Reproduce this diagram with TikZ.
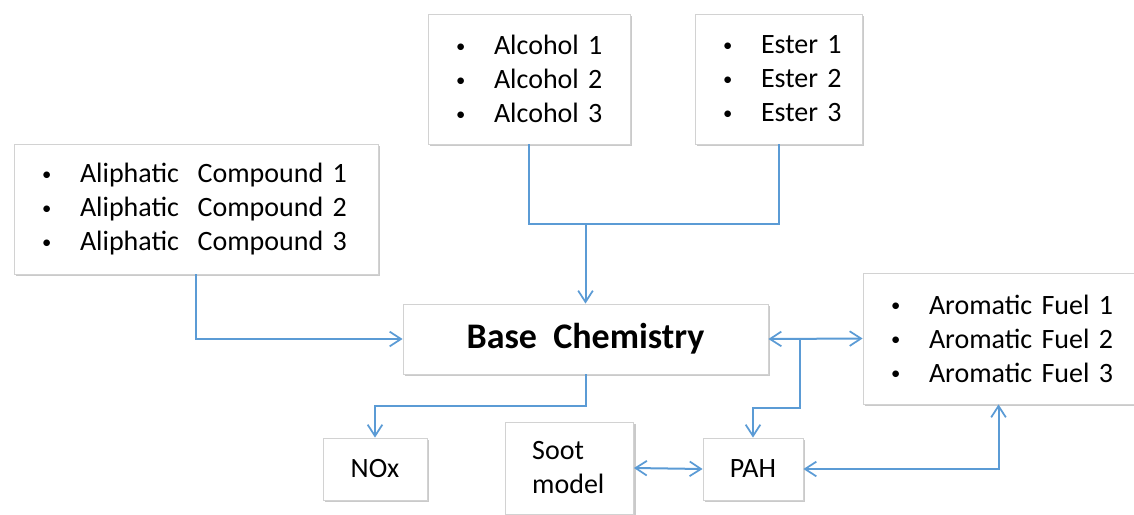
\documentclass[tikz,border=0pt]{standalone}
\usepackage{fontspec}
\setmainfont{Carlito}
\usetikzlibrary{arrows.meta,shadows,positioning,calc}
\definecolor{linkblue}{RGB}{91,155,213}
\newcommand{\itm}[1]{\mbox{\makebox[28.5pt][l]{\raisebox{1.8pt}{\fontsize{14}{14}\selectfont\textbullet}}#1}\par}

\begin{document}
\begin{tikzpicture}[x=0.75pt,y=-0.75pt,
	box/.style={draw=gray!35,fill=white,line width=0.6pt,
		drop shadow={shadow xshift=1.6pt,shadow yshift=-1.6pt,fill=gray!70,opacity=0.6},
		font=\fontsize{21}{25.5}\selectfont},
	listbox/.style={box,align=left,inner xsep=21pt,inner ysep=0pt,minimum height=97.5pt},
	plainbox/.style={box,align=center,inner sep=0pt},
	flow/.style={draw=linkblue,line width=1.5pt,
		arrows={-},>={Straight Barb[length=8.5pt,width=11pt,line width=1.3pt]}}]
		\useasboundingbox (0,0) rectangle (1134,514);
		% input fuels
		\node[listbox,text width=231pt] (ali) at (196,209) {\itm{Aliphatic~~Compound 1}\itm{Aliphatic~~Compound 2}\itm{Aliphatic~~Compound 3}};
		\node[listbox,text width=109.5pt] (alc) at (529,79) {\itm{Alcohol 1}\itm{Alcohol 2}\itm{Alcohol 3}};
		\node[listbox,text width=83.25pt] (est) at (778.5,79) {\itm{Ester 1}\itm{Ester 2}\itm{Ester 3}};
		\node[listbox,text width=161.25pt,minimum height=98.25pt] (aro) at (998.5,338.5) {\itm{Aromatic Fuel 1}\itm{Aromatic Fuel 2}\itm{Aromatic Fuel 3}};
		% base mechanism and sub-models
		\node[plainbox,minimum width=273.75pt,minimum height=52.5pt,font=\fontsize{27}{32}\selectfont\bfseries] (base) at (585.5,339) {Base~~Chemistry};
		\node[plainbox,minimum width=78pt,minimum height=46.5pt] (nox) at (375,469) {NOx};
		\node[box,align=left,text width=56pt,inner xsep=20pt,inner ysep=0pt,minimum height=69pt] (soot) at (569.5,468) {Soot\\model};
		\node[plainbox,minimum width=75pt,minimum height=46.5pt] (pah) at (753,469) {PAH};
		% bend points
		\coordinate (topjoin) at (585.5,224);
		\coordinate (split) at (800,339);
		\coordinate (pahbend) at (800,408);
		\coordinate (noxbend) at (585.5,406);
		% connectors
		\draw[flow] (alc.south) |- (topjoin) -| (est.south);
		\draw[flow,->] (topjoin) -- (base.north);
		\draw[flow,->] (ali.south) |- (base.west);
		\draw[flow,<->] (base.east) -- (aro.west);
		\draw[flow,->] (split) -- (pahbend) -| (pah.north);
		\draw[flow,->] (base.south) -- (noxbend) -| (nox.north);
		\draw[flow,<->] (soot.east) -- (pah.west);
		\draw[flow,<->] (pah.east) -| (aro.south);
\end{tikzpicture}
\end{document}
